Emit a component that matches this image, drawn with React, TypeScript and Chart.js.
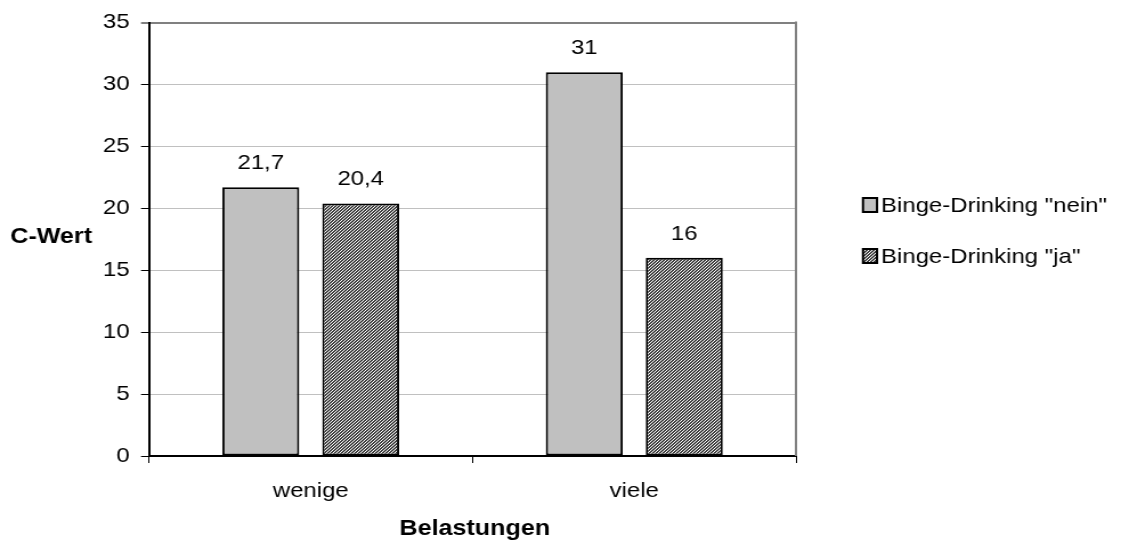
import React, { useEffect, useRef } from "react";
import { Chart, registerables } from "chart.js";

Chart.register(...registerables);

// Data
const categories: string[] = ["wenige", "viele"];
const seriesNames: string[] = ['Binge-Drinking "nein"', 'Binge-Drinking "ja"'];
const neinValues: number[] = [21.7, 31];
const jaValues: number[] = [20.4, 16];
const yTicks: number[] = [0, 5, 10, 15, 20, 25, 30, 35];
const yTitle = "C-Wert";
const xTitle = "Belastungen";

// The drawing surface is rendered narrower and stretched horizontally on screen.
const OUT_W = 1121;
const OUT_H = 546;
const CANVAS_W = 983;
const SX = OUT_W / CANVAS_W;

const FONT = "'Liberation Sans', Arial, Helvetica, sans-serif";
const LIGHT_GRAY = "#c0c0c0";

// Fine upward-diagonal hatch used for the second series
function makeHatch(ctx: CanvasRenderingContext2D): CanvasPattern | string {
  const n = 3;
  const c = document.createElement("canvas");
  c.width = n;
  c.height = n;
  const p = c.getContext("2d");
  if (!p) return "#808080";
  p.fillStyle = "#ffffff";
  p.fillRect(0, 0, n, n);
  p.fillStyle = "#404040";
  for (let y = 0; y < n; y++) {
    for (let x = 0; x < n; x++) {
      if ((x + y) % n !== 0) p.fillRect(x, y, 1, 1);
    }
  }
  return ctx.createPattern(c, "repeat") || "#808080";
}

const fmt = (v: number) => String(v).replace(".", ",");

export default function App() {
  const ref = useRef<HTMLCanvasElement | null>(null);

  useEffect(() => {
    const canvas = ref.current;
    if (!canvas) return;
    const ctx = canvas.getContext("2d");
    if (!ctx) return;
    const hatch = makeHatch(ctx);
    const fills = [LIGHT_GRAY, hatch];

    const decorations = {
      id: "decorations",
      beforeDatasetsDraw(chart: any) {
        const { ctx: c, chartArea } = chart;
        c.save();
        // right frame line
        c.strokeStyle = "#808080";
        c.lineWidth = 2;
        c.beginPath();
        c.moveTo(chartArea.right, chartArea.top - 1);
        c.lineTo(chartArea.right, chartArea.bottom);
        c.stroke();
        c.restore();
      },
      afterDatasetsDraw(chart: any) {
        const { ctx: c, chartArea } = chart;
        c.save();
        // value labels
        c.font = `21px ${FONT}`;
        c.fillStyle = "#000";
        c.textAlign = "center";
        c.textBaseline = "alphabetic";
        chart.data.datasets.forEach((ds: any, i: number) => {
          const meta = chart.getDatasetMeta(i);
          meta.data.forEach((el: any, j: number) => {
            c.fillText(fmt(ds.data[j]), el.x, el.y - 18);
          });
        });

        // axis titles
        c.font = `bold 22px ${FONT}`;
        c.textAlign = "left";
        c.textBaseline = "middle";
        c.fillText(yTitle, 9, 237);
        c.textAlign = "center";
        c.textBaseline = "alphabetic";
        c.fillText(xTitle, (chartArea.left + chartArea.right) / 2 + 2, 535);

        // legend
        const boxX = 863 / SX;
        const boxW = 14 / SX;
        const textX = 881 / SX;
        const rows = [205, 256];
        c.font = `21px ${FONT}`;
        c.textAlign = "left";
        c.textBaseline = "middle";
        seriesNames.forEach((name, i) => {
          const cy = rows[i];
          c.fillStyle = fills[i];
          c.fillRect(boxX, cy - 7, boxW, 14);
          c.strokeStyle = "#000";
          c.lineWidth = 2;
          c.strokeRect(boxX, cy - 7, boxW, 14);
          c.fillStyle = "#000";
          c.fillText(name, textX, cy + 1);
        });
        c.restore();
      },
    };

    const chart = new Chart(canvas, {
      type: "bar",
      data: {
        labels: categories,
        datasets: [
          {
            label: seriesNames[0],
            data: neinValues,
            backgroundColor: LIGHT_GRAY,
            borderColor: "#000",
            borderWidth: 2,
            borderSkipped: false,
            categoryPercentage: 0.618,
            barPercentage: 0.77,
          },
          {
            label: seriesNames[1],
            data: jaValues,
            backgroundColor: hatch as any,
            borderColor: "#000",
            borderWidth: 2,
            borderSkipped: false,
            categoryPercentage: 0.618,
            barPercentage: 0.77,
          },
        ],
      },
      options: {
        responsive: false,
        animation: false,
        layout: { padding: { top: 20, right: CANVAS_W - 796 / SX, bottom: 0, left: 0 } },
        plugins: {
          legend: { display: false },
          tooltip: { enabled: false },
        },
        scales: {
          x: {
            offset: true,
            afterFit: (s: any) => {
              s.height = OUT_H - 456;
            },
            grid: {
              offset: true,
              drawOnChartArea: false,
              drawTicks: true,
              tickLength: 7,
              tickColor: "#000",
              tickWidth: 1,
            },
            border: { display: true, color: "#000", width: 2 },
            ticks: {
              color: "#000",
              font: { family: FONT, size: 21 },
              padding: 16,
            },
          },
          y: {
            min: 0,
            max: 35,
            afterFit: (s: any) => {
              s.width = 149 / SX;
            },
            afterBuildTicks: (s: any) => {
              s.ticks = yTicks.map((v) => ({ value: v }));
            },
            grid: {
              color: (c: any) =>
                c.tick && c.tick.value === 35 ? "#808080" : c.tick && c.tick.value === 0 ? "#000" : LIGHT_GRAY,
              lineWidth: (c: any) => (c.tick && c.tick.value === 35 ? 2 : 1),
              drawTicks: true,
              tickLength: 7,
              tickColor: "#000",
              tickWidth: 1,
            },
            border: { display: true, color: "#000", width: 2 },
            ticks: {
              color: "#000",
              font: { family: FONT, size: 21 },
              padding: 10,
              callback: (v: any) => String(v),
            },
          },
        },
      },
      plugins: [decorations],
    });

    return () => chart.destroy();
  }, []);

  return (
    <div style={{ position: "fixed", left: 0, top: 0, width: OUT_W, height: OUT_H, background: "#fff" }}>
      <canvas
        ref={ref}
        width={CANVAS_W}
        height={OUT_H}
        style={{ display: "block", width: `${OUT_W}px`, height: `${OUT_H}px` }}
      />
    </div>
  );
}
